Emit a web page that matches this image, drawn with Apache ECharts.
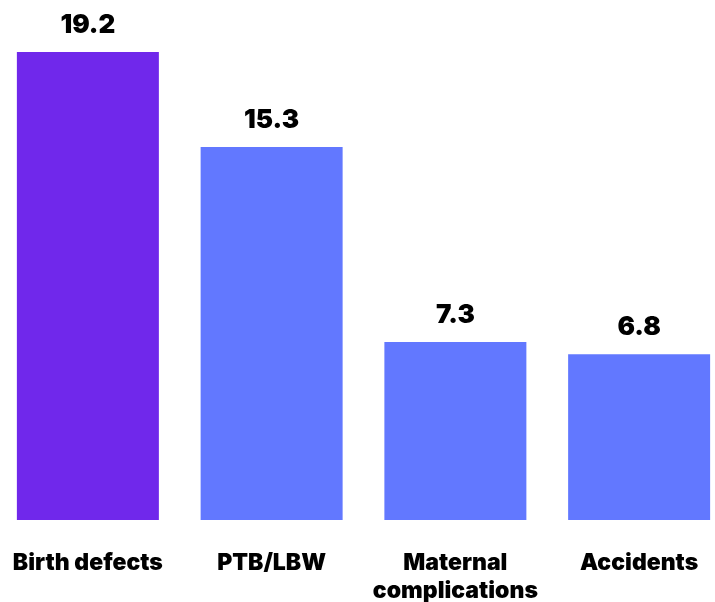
<!DOCTYPE html>
<html><head><meta charset="utf-8">
<script src="https://cdn.jsdelivr.net/npm/echarts@6/dist/echarts.min.js"></script>
<style>html,body{margin:0;padding:0;background:#fff;overflow:hidden}#c{width:735px;height:602px;margin-left:-4px}</style>
</head><body><div id="c"></div>
<script>
const categories = ['Birth defects', 'PTB/LBW', 'Maternal\ncomplications', 'Accidents'];
const values = [19.2, 15.3, 7.3, 6.8];
const barColors = ['#7028EB', '#6278FF', '#6278FF', '#6278FF'];

const chart = echarts.init(document.getElementById('c'));
chart.setOption({
  animation: false,
  grid: { left: 0, right: 0, top: 32.5, bottom: 82, containLabel: false, outerBoundsMode: 'none' },
  xAxis: {
    type: 'category', data: categories,
    axisLine: { show: false }, axisTick: { show: false },
    axisLabel: { margin: 29, color: '#000', fontFamily: 'Inter', fontWeight: 900, fontSize: 23, lineHeight: 28, interval: 0 }
  },
  yAxis: { type: 'value', min: 0, max: 20, show: false, splitLine: { show: false } },
  series: [{
    type: 'bar', barWidth: 142,
    data: values.map((v, i) => ({ value: v, itemStyle: { color: barColors[i] } })),
    label: { show: true, position: 'top', distance: 14, color: '#000', fontFamily: 'Inter', fontWeight: 900, fontSize: 26, formatter: p => p.value.toFixed(1) }
  }]
});
</script></body></html>
